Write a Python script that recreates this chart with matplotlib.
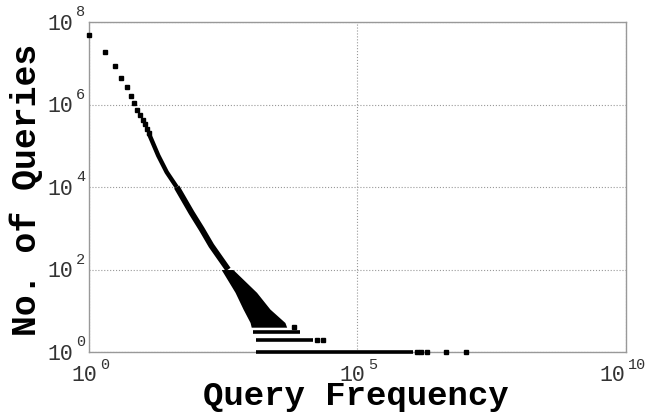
import matplotlib
matplotlib.use('Agg')
import matplotlib.pyplot as plt
from matplotlib.ticker import FixedLocator, NullLocator, NullFormatter

plt.rcParams['font.family'] = ['Liberation Mono', 'DejaVu Sans Mono']

# head of the distribution: one marker per frequency
freq_head = [1, 2, 3, 4, 5, 6, 7, 8, 9, 10, 11, 12, 13]
count_head = [4.8e7, 1.9e7, 8.5e6, 4.4e6, 2.6e6, 1.6e6, 1.1e6,
              7.5e5, 5.6e5, 4.2e5, 3.4e5, 2.6e5, 2.0e5]

# dense part, read as the centre of the thick band
freq_band_top = [13, 19.5, 28, 43]
count_band_top = [2.0e5, 5.8e4, 2.3e4, 1.0e4]
freq_band_low = [43, 81, 126, 190, 390]
count_band_low = [1.0e4, 2.4e3, 950, 380, 100]

# scatter fan below 100 queries (left / right edges)
fan_count = [4, 5.2, 11, 28, 100]
fan_left = [1050, 1000, 740, 525, 290]
fan_right = [4800, 4450, 2340, 1320, 480]

# rows of equal count (count, first freq, last freq)
row_count = [3, 2, 1]
row_start = [1120, 1290, 1290]
row_end = [8500, 14800, 1.07e6]

# isolated markers in the tail
tail_freq = [6600, 17800, 22900, 1.26e6, 1.5e6, 1.95e6, 4.4e6, 1.05e7]
tail_count = [4, 2, 2, 1, 1, 1, 1, 1]

xtick_exp = [0, 5, 10]
ytick_exp = [0, 2, 4, 6, 8]

fig = plt.figure(figsize=(6.65, 4.14), dpi=100)
ax = fig.add_axes([0.1338, 0.1473, 0.8075, 0.797])
ax.set_xscale('log')
ax.set_yscale('log')
ax.set_xlim(1, 1e10)
ax.set_ylim(1, 1e8)

ax.plot(freq_band_top, count_band_top, color='k', lw=3.2, solid_capstyle='butt', zorder=3)
ax.plot(freq_band_low, count_band_low, color='k', lw=4.3, solid_capstyle='butt', zorder=3)
ax.fill_betweenx(fan_count, fan_left, fan_right, color='k', lw=0, zorder=3)
ax.hlines(row_count, row_start, row_end, color='k', lw=2.6, zorder=3, clip_on=False)
ax.plot(freq_head, count_head, 's', color='k', ms=2.8, zorder=4, clip_on=False)
ax.plot(tail_freq, tail_count, 's', color='k', ms=2.8, zorder=4, clip_on=False)

ax.xaxis.set_major_locator(FixedLocator([10.0 ** e for e in xtick_exp]))
ax.yaxis.set_major_locator(FixedLocator([10.0 ** e for e in ytick_exp]))
ax.xaxis.set_minor_locator(NullLocator())
ax.yaxis.set_minor_locator(NullLocator())
ax.xaxis.set_major_formatter(NullFormatter())
ax.yaxis.set_major_formatter(NullFormatter())
ax.tick_params(length=0)
ax.grid(True, linestyle=':', color='#999999', lw=0.8)
ax.set_axisbelow(True)
for s in ax.spines.values():
    s.set_color('#999999')
    s.set_linewidth(1.0)

# tick labels drawn as "10" plus a raised exponent
tcol = '#333333'
for e in xtick_exp:
    n = len(str(e))
    base_right = 8 - 9 * (n - 1)
    ax.annotate('10', (10.0 ** e, 0), xycoords=ax.get_xaxis_transform(),
                xytext=(base_right, -12), textcoords='offset pixels',
                ha='right', va='top', fontsize=15.5, color=tcol)
    ax.annotate(str(e), (10.0 ** e, 0), xycoords=ax.get_xaxis_transform(),
                xytext=(base_right + 3, -5), textcoords='offset pixels',
                ha='left', va='top', fontsize=11, color=tcol)
for e in ytick_exp:
    ax.annotate('10', (0, 10.0 ** e), xycoords=ax.get_yaxis_transform(),
                xytext=(-16, -1), textcoords='offset pixels',
                ha='right', va='center', fontsize=15.5, color=tcol)
    ax.annotate(str(e), (0, 10.0 ** e), xycoords=ax.get_yaxis_transform(),
                xytext=(-4, 4), textcoords='offset pixels',
                ha='right', va='bottom', fontsize=11, color=tcol)

fig.text(356 / 665, 1 - 405 / 414, 'Query Frequency', fontsize=24.5, fontweight='bold',
         ha='center', va='baseline')
fig.text(26 / 665, 1 - 190 / 414, 'No. of Queries', fontsize=25, fontweight='bold',
         ha='center', va='center', rotation=90)

fig.savefig('out.png', dpi=100)
